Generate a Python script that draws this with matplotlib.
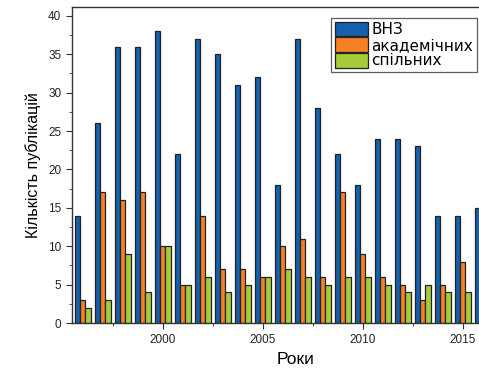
import numpy as np
import matplotlib.pyplot as plt
from matplotlib.ticker import MultipleLocator

plt.rcParams['font.family'] = ['Liberation Sans', 'DejaVu Sans']

years = list(range(1996, 2017))
vnz = [14, 26, 36, 36, 38, 22, 37, 35, 31, 32, 18, 37, 28, 22, 18, 24, 24, 23, 14, 14, 15]
akad = [3, 17, 16, 17, 10, 5, 14, 7, 7, 6, 10, 11, 6, 17, 9, 6, 5, 3, 5, 8, 5]
spil = [2, 3, 9, 4, 10, 5, 6, 4, 5, 6, 7, 6, 5, 6, 6, 5, 4, 5, 4, 4, 4]
labels = ['ВНЗ', 'академічних', 'спільних']
colors = ['#1560ad', '#f58025', '#a6cc3c']

W, H = 479, 370
fig = plt.figure(figsize=(W / 100, H / 100), dpi=100)
# axes run past the right edge of the figure
ax = fig.add_axes([71.7 / W, (H - 323) / H, (520 - 71.7) / W, (323 - 6.7) / H])

x = np.array(years)
bw = 0.27
for i, (vals, lab, c) in enumerate(zip([vnz, akad, spil], labels, colors)):
    ax.bar(x + (i - 1) * bw, vals, width=bw, color=c, edgecolor='#222222',
           linewidth=0.9, label=lab)

ax.set_xlim(1995.45, 1995.45 + (520 - 71.7) / 20)
ax.set_ylim(0, 41.2)
ax.xaxis.set_major_locator(MultipleLocator(5))
ax.xaxis.set_minor_locator(MultipleLocator(2.5))
ax.yaxis.set_major_locator(MultipleLocator(5))
ax.yaxis.set_minor_locator(MultipleLocator(2.5))
ax.tick_params(which='both', direction='out', colors='#333333', labelcolor='#222222')
ax.tick_params(which='major', length=4, labelsize=8.5)
ax.tick_params(which='minor', length=2.5)
ax.tick_params(axis='x', which='major', pad=4)
for s in ax.spines.values():
    s.set_color('#333333')
    s.set_linewidth(1.0)

ax.set_xlabel('Роки', fontsize=12.5, labelpad=4)
ax.set_ylabel('Кількість публікацій', fontsize=11.5, labelpad=5)

leg = ax.legend(loc='upper left', bbox_to_anchor=(331 / W, 1 - 18 / H),
                bbox_transform=fig.transFigure, frameon=True,
                prop={'family': 'DejaVu Sans', 'size': 11},
                fancybox=False, handlelength=2.2, handleheight=1.1,
                handletextpad=0.2, labelspacing=0.0, borderpad=0.25,
                borderaxespad=0)
leg.get_frame().set_edgecolor('#333333')
leg.get_frame().set_linewidth(0.9)

fig.savefig('out.png', dpi=100)
